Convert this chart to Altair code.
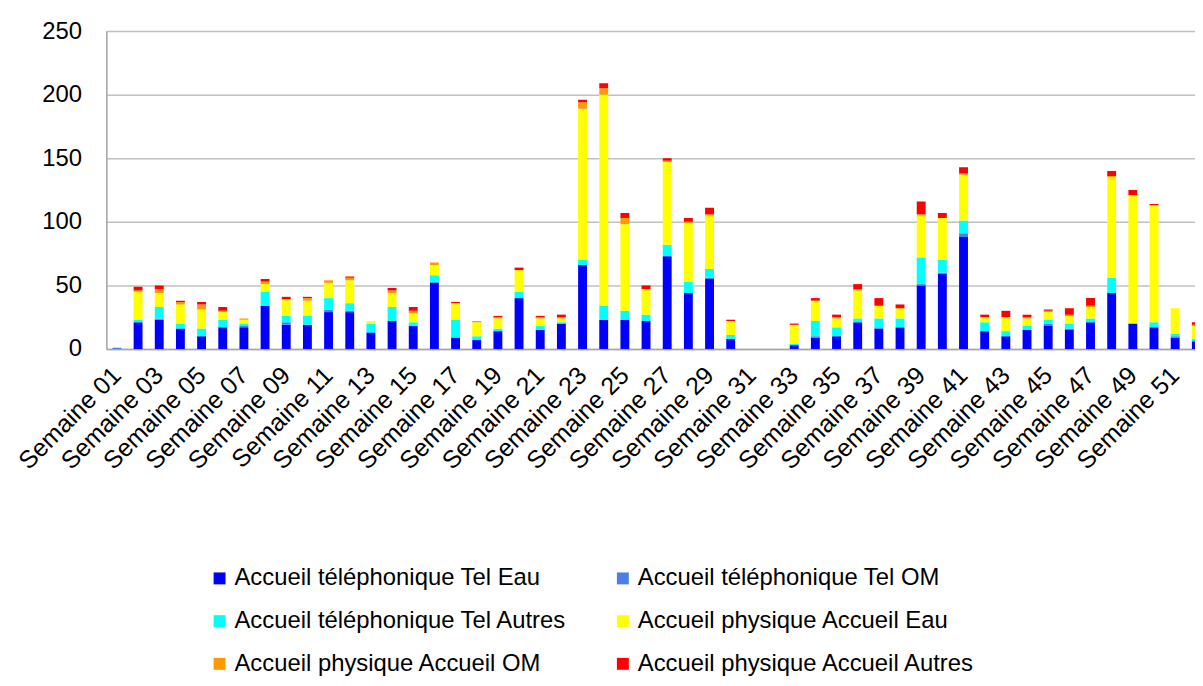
import altair as alt
import pandas as pd

weeks = [f"Semaine {i:02d}" for i in range(1, 53)]
label_weeks = [f"Semaine {i:02d}" for i in range(1, 53, 2)]

series = [
    "Accueil téléphonique Tel Eau",
    "Accueil téléphonique Tel OM",
    "Accueil téléphonique Tel Autres",
    "Accueil physique Accueil Eau",
    "Accueil physique Accueil OM",
    "Accueil physique Accueil Autres",
]
colors = ["#0000FF", "#4A7FE5", "#00FFFF", "#FFFF00", "#FF9900", "#FF0000"]

tel_eau = [0, 21, 23, 16, 10, 17, 17, 34, 19, 19, 29, 29, 13, 22, 18, 52, 9, 7, 14, 40, 15, 20, 66, 23, 23, 22,
           73, 44, 55, 8, 0, 0, 3, 9, 10, 21, 16, 17, 50, 59, 88, 14, 10, 15, 18, 15, 21, 44, 20, 17, 9, 6]
tel_om = [1, 0, 1, 0, 0, 0, 1, 0, 2, 0, 2, 1, 0, 0, 0, 1, 0, 0, 0, 0, 0, 0, 0, 0, 0, 0,
          0, 0, 1, 0, 0, 0, 0, 1, 0, 0, 1, 0, 1, 1, 3, 0, 0, 0, 2, 1, 0, 0, 0, 0, 1, 0]
tel_autres = [0, 2, 9, 4, 6, 6, 2, 11, 5, 7, 9, 6, 7, 11, 3, 5, 14, 3, 2, 5, 3, 1, 4, 11, 7, 5,
              9, 9, 7, 3, 0, 0, 1, 12, 7, 3, 7, 7, 21, 10, 10, 7, 4, 3, 3, 4, 3, 12, 0, 4, 2, 2]
phys_eau = [0, 22, 11, 15, 15, 6, 3, 6, 13, 12, 12, 18, 2, 11, 7, 8, 13, 11, 8, 17, 6, 3, 119, 166, 68, 20,
            65, 46, 42, 11, 0, 0, 15, 16, 7, 22, 10, 8, 33, 33, 36, 4, 11, 6, 6, 6, 9, 79, 101, 92, 20, 10]
phys_om = [0, 1, 3, 2, 4, 1, 1, 2, 0, 2, 2, 2, 0, 2, 2, 2, 0, 1, 1, 0, 1, 1, 5, 5, 5, 0,
           1, 1, 1, 0, 0, 0, 0, 0, 1, 1, 0, 0, 1, 0, 1, 0, 0, 1, 1, 1, 1, 1, 0, 0, 0, 1]
phys_autres = [0, 3, 3, 1, 2, 3, 0, 2, 2, 1, 0, 1, 0, 2, 3, 0, 1, 0, 1, 2, 1, 2, 2, 4, 4, 3,
               2, 3, 5, 1, 0, 0, 1, 2, 2, 4, 6, 3, 10, 4, 5, 2, 5, 2, 1, 5, 6, 4, 4, 1, 0, 2]

values = [tel_eau, tel_om, tel_autres, phys_eau, phys_om, phys_autres]

rows = []
for si, (name, vals) in enumerate(zip(series, values)):
    for w, v in zip(weeks, vals):
        rows.append({"semaine": w, "serie": name, "valeur": v, "ordre": si})
df = pd.DataFrame(rows)

FONT = "Liberation Sans"

chart = alt.Chart(df).mark_bar(clip=True).encode(
    x=alt.X(
        "semaine:N",
        sort=weeks,
        title=None,
        scale=alt.Scale(paddingInner=0.58, paddingOuter=0.29, range=[0, 1108]),
        axis=alt.Axis(
            values=label_weeks,
            labelAngle=-45,
            labelAlign="right",
            labelBaseline="middle",
            labelFontSize=25,
            labelFont=FONT,
            labelColor="#000000",
            labelPadding=22,
            ticks=False,
            domainColor="#A6A6A6",
            domainWidth=1.5,
            grid=False,
        ),
    ),
    y=alt.Y(
        "sum(valeur):Q",
        title=None,
        stack="zero",
        scale=alt.Scale(domain=[0, 250]),
        axis=alt.Axis(
            values=[0, 50, 100, 150, 200, 250],
            labelFontSize=24,
            labelFont=FONT,
            labelColor="#000000",
            labelPadding=25,
            ticks=False,
            domainColor="#A6A6A6",
            domainWidth=1.5,
            gridColor="#C0C0C0",
            gridWidth=1.5,
        ),
    ),
    color=alt.Color(
        "serie:N",
        scale=alt.Scale(domain=series, range=colors),
        legend=alt.Legend(
            title=None,
            orient="none",
            legendX=102,
            legendY=539,
            columns=2,
            direction="horizontal",
            symbolType="square",
            symbolSize=144,
            symbolStrokeWidth=0,
            labelFontSize=24,
            labelFont=FONT,
            labelColor="#000000",
            labelOffset=3,
            columnPadding=44,
            rowPadding=19,
            labelLimit=600,
            padding=0,
        ),
    ),
    order=alt.Order("ordre:Q", sort="ascending"),
).properties(
    width=1096,
    height=320,
    autosize=alt.AutoSizeParams(type="none"),
    padding={"left": 99, "top": 21, "right": 0, "bottom": 329},
).configure_view(stroke=None).configure(background="#FFFFFF")

chart.save("out.html", embed_options={"renderer": "svg", "actions": False})
